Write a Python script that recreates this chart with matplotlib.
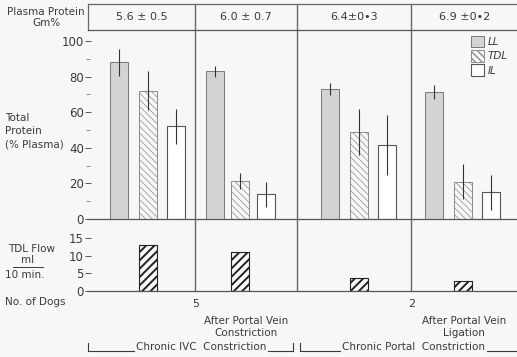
import matplotlib
matplotlib.use('Agg')
import matplotlib.pyplot as plt
from matplotlib.lines import Line2D
from matplotlib.patches import Patch
from matplotlib.transforms import blended_transform_factory

# data
plasma = ['5.6 ± 0.5', '6.0 ± 0.7', '6.4±0•3', '6.9 ±0•2']
ll = [88, 83, 73, 71.5]
ll_err = [7.5, 3, 3.5, 4]
tdl = [72, 21.5, 49, 21]
tdl_err = [11, 4.5, 13, 10]
il = [52, 14, 41.5, 15]
il_err = [10, 7, 17, 10]
flow = [13, 11, 3.5, 2.8]
dogs = ['5', '2']
after_labels = ['After Portal Vein\nConstriction', 'After Portal Vein\nLigation']
bracket_labels = ['Chronic IVC  Constriction', 'Chronic Portal  Constriction']

# layout (x in group units, 0..4)
x_center = [0.557, 1.42, 2.524, 3.494]
x_step = [0.264, 0.24, 0.268, 0.268]
dividers = [1.0, 1.95, 3.015]
bar_w = 0.168

bg = '#f7f7f5'
ink = '#3a3a3a'
W, H = 517, 357


def fx(px):
    return px / W


def fy(py):
    return 1 - py / H


fig = plt.figure(figsize=(W / 100, H / 100), dpi=100, facecolor=bg)

ax_head = fig.add_axes([fx(88), fy(30), 1 - fx(88), (30 - 4) / H])
ax = fig.add_axes([fx(88), fy(219), 1 - fx(88), (219 - 30) / H])
ax2 = fig.add_axes([fx(88), fy(290.5), 1 - fx(88), (290.5 - 219) / H])

for a in (ax_head, ax, ax2):
    a.set_xlim(0, 4)
    a.set_facecolor('none')
    a.set_xticks([])
    for s in a.spines.values():
        s.set_visible(False)
    for d in dividers:
        a.axvline(d, color='#666666', lw=1.0)

# header row
ax_head.set_ylim(0, 1)
ax_head.set_yticks([])
ax_head.spines['top'].set_visible(True)
ax_head.spines['left'].set_visible(True)
for s in ('top', 'left'):
    ax_head.spines[s].set_color('#666666')
    ax_head.spines[s].set_linewidth(0.9)
bounds = [0] + dividers + [4]
for i, s in enumerate(plasma):
    ax_head.text((bounds[i] + bounds[i + 1]) / 2, 0.5, s, ha='center', va='center',
                 fontsize=8, color=ink)

# main panel
x_ll = [c - s for c, s in zip(x_center, x_step)]
x_il = [c + s for c, s in zip(x_center, x_step)]

b1 = ax.bar(x_ll, ll, bar_w, color='#d3d3d3', edgecolor='#777777', lw=0.7)
b2 = ax.bar(x_center, tdl, bar_w, color=bg, edgecolor='#8a8a8a', lw=0.7,
            hatch='\\\\\\\\\\')
b3 = ax.bar(x_il, il, bar_w, color='white', edgecolor='#555555', lw=0.8)
for p in b2:
    if hasattr(p, 'set_hatch_linewidth'):
        p.set_hatch_linewidth(0.5)
for xs, ys, es in ((x_ll, ll, ll_err), (x_center, tdl, tdl_err), (x_il, il, il_err)):
    ax.errorbar(xs, ys, yerr=es, fmt='none', ecolor='#333333', elinewidth=0.8, capsize=0)

ax.set_ylim(0, 106.2)
ax.set_yticks([0, 20, 40, 60, 80, 100])
ax.set_yticks([10, 30, 50, 70, 90], minor=True)
ax.spines['top'].set_visible(True)
ax.spines['bottom'].set_visible(True)
for s in ('top', 'bottom'):
    ax.spines[s].set_color('#555555')
    ax.spines[s].set_linewidth(0.9)
ax.tick_params(axis='y', which='major', length=4, width=0.7, color='#555555',
               labelsize=8.5, labelcolor=ink, pad=1, direction='inout')
ax.tick_params(axis='y', which='minor', length=3, width=0.6, color='#777777',
               direction='inout')

leg = ax.legend(handles=[Patch(facecolor='#d3d3d3', edgecolor='#777777', lw=0.7),
                         Patch(facecolor=bg, edgecolor='#8a8a8a', lw=0.7, hatch='\\\\\\\\\\'),
                         Patch(facecolor='white', edgecolor='#555555', lw=0.8)],
                labels=['LL', 'TDL', 'IL'], loc='upper left', bbox_to_anchor=(0.893, 0.97),
                frameon=False, handlelength=1.2, handleheight=1.35, handletextpad=0.4,
                labelspacing=0.25, borderpad=0, borderaxespad=0,
                prop={'style': 'italic', 'size': 7.5})
for t in leg.get_texts():
    t.set_color(ink)

# lower panel: TDL flow
b4 = ax2.bar(x_center, flow, bar_w, color=bg, edgecolor='#222222', lw=0.8, hatch='////')
for p in b4:
    if hasattr(p, 'set_hatch_linewidth'):
        p.set_hatch_linewidth(1.4)
ax2.set_ylim(0, 20.5)
ax2.set_yticks([0, 5, 10, 15])
ax2.spines['bottom'].set_visible(True)
ax2.spines['bottom'].set_color('#555555')
ax2.spines['bottom'].set_linewidth(0.9)
ax2.tick_params(axis='y', length=4, width=0.7, color='#555555', labelsize=8.5,
                labelcolor=ink, pad=1, direction='inout')

# left labels
fig.text(fx(46), fy(17.5), 'Plasma Protein\nGm%', ha='center', va='center',
         fontsize=7.5, color=ink, linespacing=1.05)
fig.text(fx(5), fy(131), 'Total\nProtein\n(% Plasma)', ha='left', va='center',
         fontsize=7.5, color=ink, linespacing=1.4)
fig.text(fx(8), fy(249), 'TDL Flow', ha='left', va='center', fontsize=7.5, color=ink)
fig.text(fx(28), fy(260), 'ml', ha='center', va='center', fontsize=7.5, color=ink)
fig.add_artist(Line2D([fx(13), fx(43)], [fy(266.5), fy(266.5)], color=ink, lw=0.7))
fig.text(fx(25), fy(274.5), '10 min.', ha='center', va='center', fontsize=7.5, color=ink)
fig.text(fx(5), fy(302), 'No. of Dogs', ha='left', va='center', fontsize=7.5, color=ink)

# group labels below the axis
tr = blended_transform_factory(ax2.transData, fig.transFigure)
for d, n in zip([dividers[0], dividers[2]], dogs):
    fig.text(d, fy(304), n, transform=tr, ha='center', va='center', fontsize=8, color=ink)
for i, s in zip([1, 3], after_labels):
    fig.text((bounds[i] + bounds[i + 1]) / 2, fy(327), s, transform=tr, ha='center',
             va='center', fontsize=7.5, color=ink, linespacing=1.35)

# brackets along the bottom
yb = fy(351)
ytop = fy(343)
spans = [(88, 293, 201), (300, 530, 413)]
fig.canvas.draw()
rend = fig.canvas.get_renderer()
for (x0, x1, xc), s in zip(spans, bracket_labels):
    t = fig.text(fx(xc), fy(347.5), s, ha='center', va='center', fontsize=7.5, color=ink)
    bb = t.get_window_extent(rend)
    left = bb.x0 / W - fx(2)
    right = bb.x1 / W + fx(2)
    fig.add_artist(Line2D([fx(x0), fx(x0), left], [ytop, yb, yb], color=ink, lw=0.8))
    fig.add_artist(Line2D([right, fx(x1), fx(x1)], [yb, yb, ytop], color=ink, lw=0.8))

fig.savefig('out.png', dpi=100, facecolor=bg)
